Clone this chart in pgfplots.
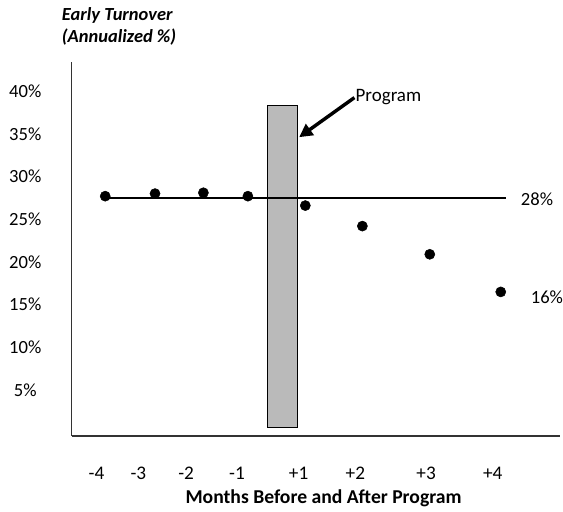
\documentclass[border=0pt]{standalone}
\usepackage{pgfplots}
\pgfplotsset{compat=1.18}
\usepackage{fontspec}
\setmainfont{Carlito}
\usetikzlibrary{arrows.meta}
\begin{document}
\begin{tikzpicture}
\begin{axis}[
  scale only axis,
  width=368.25pt, height=281.8pt,
  xmin=72, xmax=563, ymin=-0.36, ymax=43.4,
  axis lines=left,
  axis line style={-, line width=1.1pt, black!80},
  clip=false,
  font=\fontsize{14}{16}\selectfont,
  xtick={97,139,187,238,300,357,428,495},
  xticklabels={-4,-3,-2,-1,+1,+2,+3,+4},
  ytick={5,10,15,20,25,30,35,40},
  yticklabels={5\%,10\%,15\%,20\%,25\%,30\%,35\%,40\%},
  major tick length=0pt,
  x tick label style={anchor=center, yshift=-28pt, font=\fontsize{14.5}{16}\selectfont},
  y tick label style={anchor=center, xshift=-35pt, font=\fontsize{14}{16}\selectfont},
  /pgf/number format/assume math mode=true,
]
\path (axis cs:0,50.65) rectangle (axis cs:563,-8.9);
% program bar
\addplot[draw=black, line width=0.8pt, fill=black!27] coordinates {(268.3,0.6) (299.3,0.6) (299.3,38.3) (268.3,38.3)} -- cycle;
% average line
\addplot[black, line width=1.2pt] coordinates {(105,27.5) (508,27.5)};
% data points
\addplot[only marks, mark=*, mark size=3.8pt, black] coordinates {
 (105.7,27.7) (155.7,28.0) (204.3,28.1) (249,27.7) (306.7,26.6) (364,24.2) (431.7,20.9) (503,16.5)};
% arrow
\draw[line width=2.6pt, -{Triangle[length=10pt,width=10pt]}] (axis cs:356,39.23) -- (axis cs:300.5,34.6);
\node[anchor=west, inner sep=0pt, font=\fontsize{14.3}{16}\selectfont] at (axis cs:357,39.3) {Program};
\node[anchor=west, inner sep=0pt] at (axis cs:523,27.3) {28\%};
\node[anchor=west, inner sep=0pt] at (axis cs:533,15.9) {16\%};
\node[align=left, anchor=west, inner sep=0pt, font=\fontsize{13.9}{17.25}\selectfont\bfseries\itshape] at (axis cs:62,47.56) {Early Turnover\\(Annualized \%)};
\node[font=\fontsize{14.8}{16}\selectfont\bfseries] at (axis cs:325,-7.62) {Months Before and After Program};
\end{axis}
\end{tikzpicture}
\end{document}
